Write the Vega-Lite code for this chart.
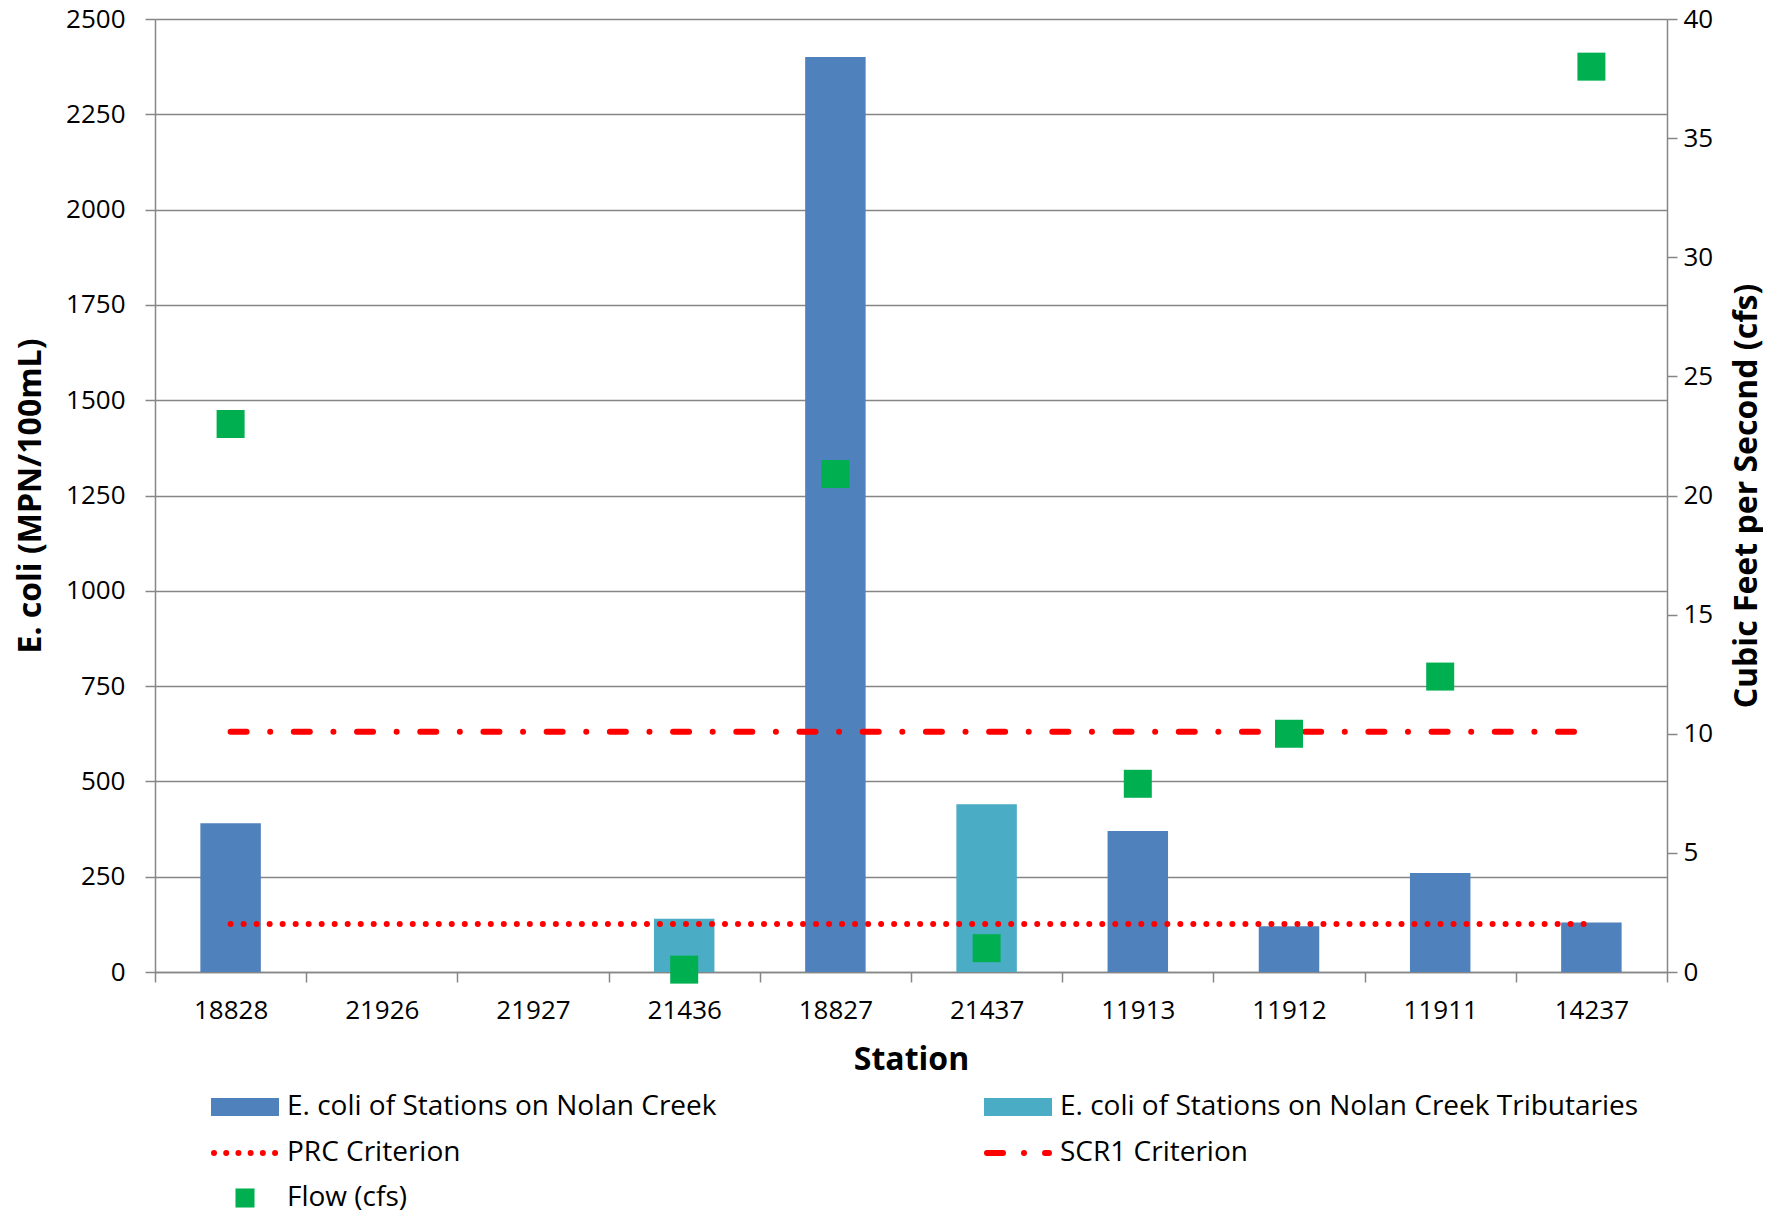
{
  "$schema": "https://vega.github.io/schema/vega-lite/v6.json",
  "width": 1512,
  "height": 953,
  "padding": {"left": 14, "top": 6, "right": 0, "bottom": 0},
  "background": "white",
  "config": {
    "font": "Open Sans",
    "view": {"stroke": null},
    "axis": {
      "labelFont": "Open Sans", "labelFontSize": 26, "labelColor": "#000000",
      "titleFont": "Open Sans", "titleFontSize": 32, "titleFontWeight": "bold", "titleColor": "#000000",
      "domainColor": "#868686", "domainWidth": 1.5, "tickColor": "#868686", "tickWidth": 1.5, "tickSize": 10,
      "gridColor": "#868686", "gridWidth": 1.5
    },
    "legend": {"labelFont": "Open Sans", "labelFontSize": 28, "labelColor": "#000000", "padding": 0, "labelOffset": 8, "labelLimit": 800}
  },
  "data": {"values": [
    {"station": "18828", "group": "E. coli of Stations on Nolan Creek", "ecoli": 390, "flow": 23.0, "prc": 126, "scr1": 630},
    {"station": "21926", "group": null, "ecoli": null, "flow": null, "prc": 126, "scr1": 630},
    {"station": "21927", "group": null, "ecoli": null, "flow": null, "prc": 126, "scr1": 630},
    {"station": "21436", "group": "E. coli of Stations on Nolan Creek Tributaries", "ecoli": 140, "flow": 0.1, "prc": 126, "scr1": 630},
    {"station": "18827", "group": "E. coli of Stations on Nolan Creek", "ecoli": 2400, "flow": 20.9, "prc": 126, "scr1": 630},
    {"station": "21437", "group": "E. coli of Stations on Nolan Creek Tributaries", "ecoli": 440, "flow": 1.0, "prc": 126, "scr1": 630},
    {"station": "11913", "group": "E. coli of Stations on Nolan Creek", "ecoli": 370, "flow": 7.9, "prc": 126, "scr1": 630},
    {"station": "11912", "group": "E. coli of Stations on Nolan Creek", "ecoli": 120, "flow": 10.0, "prc": 126, "scr1": 630},
    {"station": "11911", "group": "E. coli of Stations on Nolan Creek", "ecoli": 260, "flow": 12.4, "prc": 126, "scr1": 630},
    {"station": "14237", "group": "E. coli of Stations on Nolan Creek", "ecoli": 130, "flow": 38.0, "prc": 126, "scr1": 630}
  ]},
  "encoding": {
    "x": {
      "field": "station", "type": "nominal", "sort": null,
      "scale": {"domain": ["18828", "21926", "21927", "21436", "18827", "21437", "11913", "11912", "11911", "14237"], "paddingInner": 0, "paddingOuter": 0},
      "axis": {"title": "Station", "labelAngle": 0, "tickBand": "extent", "labelPadding": 15, "titlePadding": 21, "grid": false}
    }
  },
  "layer": [
    {
      "transform": [{"filter": "datum.group === 'E. coli of Stations on Nolan Creek'"}],
      "mark": {"type": "bar", "width": {"band": 0.4}},
      "encoding": {
        "y": {"field": "ecoli", "type": "quantitative", "scale": {"domain": [0, 2500]},
          "axis": {"orient": "left", "title": "E. coli (MPN/100mL)", "format": "d", "values": [0, 250, 500, 750, 1000, 1250, 1500, 1750, 2000, 2250, 2500], "grid": true, "labelPadding": 20, "titlePadding": 18}},
        "color": {"field": "group", "type": "nominal", "scale": {"range": ["#4F81BD"]},
          "legend": {"orient": "none", "title": null, "legendX": 56, "legendY": 1054, "symbolType": "M-1,-0.265H1V0.265H-1Z", "symbolSize": 4624, "symbolStrokeWidth": 0, "symbolOpacity": 1}}
      }
    },
    {
      "transform": [{"filter": "datum.group === 'E. coli of Stations on Nolan Creek Tributaries'"}],
      "mark": {"type": "bar", "width": {"band": 0.4}},
      "encoding": {
        "y": {"field": "ecoli", "type": "quantitative", "scale": {"domain": [0, 2500]}, "axis": null},
        "color": {"field": "group", "type": "nominal", "scale": {"range": ["#4BACC6"]},
          "legend": {"orient": "none", "title": null, "legendX": 829, "legendY": 1054, "symbolType": "M-1,-0.265H1V0.265H-1Z", "symbolSize": 4624, "symbolStrokeWidth": 0, "symbolOpacity": 1}}
      }
    },
    {
      "mark": {"type": "line", "strokeWidth": 6, "strokeCap": "round", "strokeDash": [0.01, 13]},
      "encoding": {
        "y": {"field": "prc", "type": "quantitative", "scale": {"domain": [0, 2500]}, "axis": null},
        "color": {"datum": "PRC Criterion", "scale": {"range": ["#FF0000"]},
          "legend": {"orient": "none", "title": null, "legendX": 56, "legendY": 1100, "symbolType": "stroke", "symbolSize": 3844, "symbolStrokeWidth": 6, "symbolDash": [0.01, 12.2],
            "encode": {"symbols": {"update": {"strokeCap": {"value": "round"}}}}}}
      }
    },
    {
      "mark": {"type": "line", "strokeWidth": 6, "strokeCap": "round", "strokeDash": [16, 23.6, 0.01, 23.6]},
      "encoding": {
        "y": {"field": "scr1", "type": "quantitative", "scale": {"domain": [0, 2500]}, "axis": null},
        "color": {"datum": "SCR1 Criterion", "scale": {"range": ["#FF0000"]},
          "legend": {"orient": "none", "title": null, "legendX": 829, "legendY": 1100, "symbolType": "stroke", "symbolSize": 3844, "symbolStrokeWidth": 6, "symbolDash": [16, 21, 0.01, 21],
            "encode": {"symbols": {"update": {"strokeCap": {"value": "round"}}}}}}
      }
    },
    {
      "mark": {"type": "square", "size": 784, "filled": true, "opacity": 1},
      "encoding": {
        "y": {"field": "flow", "type": "quantitative", "scale": {"domain": [0, 40]},
          "axis": {"orient": "right", "title": "Cubic Feet per Second (cfs)", "values": [0, 5, 10, 15, 20, 25, 30, 35, 40], "grid": false, "labelPadding": 6, "titlePadding": 19, "titleAngle": -90, "titleBaseline": "top"}},
        "color": {"datum": "Flow (cfs)", "scale": {"range": ["#00B050"]},
          "legend": {"orient": "none", "title": null, "legendX": 56, "legendY": 1145, "symbolType": "M-0.28,-0.28H0.28V0.28H-0.28Z", "symbolSize": 4624, "symbolStrokeWidth": 0, "symbolOpacity": 1}}
      }
    }
  ],
  "resolve": {"scale": {"y": "independent", "color": "independent"}}
}
